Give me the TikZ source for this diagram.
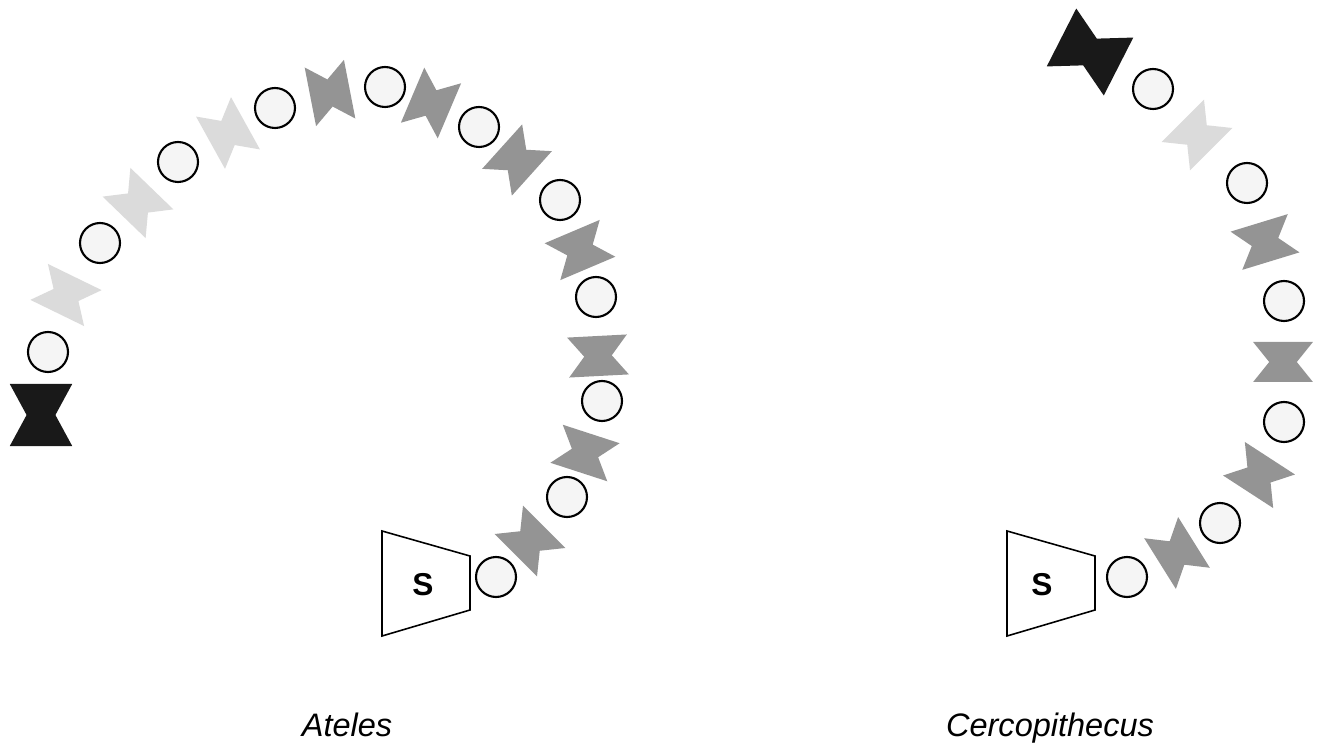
\documentclass[tikz,border=0pt]{standalone}
\usepackage{fontspec}
\setsansfont{Liberation Sans}
\usepackage{xcolor}
\usepackage{tikz}
\usetikzlibrary{positioning}

\colorlet{tiemid}{black!42}
\colorlet{tielight}{black!14}
\colorlet{tiedark}{black!90}

\tikzset{
  ring/.style={circle, draw, line width=1.2pt, fill=black!4, minimum size=0.8cm, inner sep=0pt},
  pics/bowtie/.style={code={\fill[#1] (-1,-1.3) -- (-1,1.3) -- (0,0.6) -- (1,1.3) -- (1,-1.3) -- (0,-0.6) -- cycle;}},
  slot/.style={draw, line width=0.9pt},
  genus/.style={font=\sffamily\itshape\fontsize{18.5}{20}\selectfont, anchor=base}
}

\begin{document}
\begin{tikzpicture}[x=0.02cm, y=-0.02cm]
        \useasboundingbox (0,0) rectangle (1317,749);
        % Start blocks
        \foreach \dx/\n/\sx in {0/as/423, 625/cs/1042} {
            \draw[slot] (382+\dx,531) -- (470+\dx,556) -- (470+\dx,610) -- (382+\dx,636) -- cycle;
            \node[font=\sffamily\bfseries\fontsize{18}{20}\selectfont] (\n) at (\sx,585) {S};
        }
        % Ateles chain
        \foreach \x/\y [count=\i] in {496/577, 567/497, 602/401, 596/297, 560/200, 479/127, 385/87, 275/108, 178/162, 100/243, 48/352} {
            \node[ring] (at\i) at (\x,\y) {};
        }
        \foreach \x/\y/\a/\c [count=\i] in {530/541/45/tiemid, 585/453/72/tiemid, 598/356/93/tiemid, 580/250/113/tiemid, 517/160/138/tiemid, 431/103/157/tiemid, 330/93/191/tiemid, 228/133/209/tielight, 138/203/226/tielight, 66/295/244/tielight} {
            \pic[rotate=\a, xscale=20, yscale=23] (atb\i) at (\x,\y) {bowtie=\c};
        }
        \pic[rotate=90, xscale=31, yscale=24] (atend) at (41,415) {bowtie=tiedark};
        % Cercopithecus chain
        \foreach \x/\y [count=\i] in {1127/577, 1220/523, 1284/422, 1284/301, 1247/183, 1153/89} {
            \node[ring] (ct\i) at (\x,\y) {};
        }
        \foreach \x/\y/\a/\c [count=\i] in {1177/553/32/tiemid, 1259/475/57/tiemid, 1283/362/90/tiemid, 1265/242/107/tiemid, 1197/135/135/tielight} {
            \pic[rotate=\a, xscale=20, yscale=23] (ctb\i) at (\x,\y) {bowtie=\c};
        }
        \pic[rotate=153, xscale=32, yscale=25] (ctend) at (1090,52) {bowtie=tiedark};
        % Labels
        \node[genus] (ateles) at (347,736) {Ateles};
        \node[genus] (cerco) at (1050,736) {Cercopithecus};
\end{tikzpicture}
\end{document}
